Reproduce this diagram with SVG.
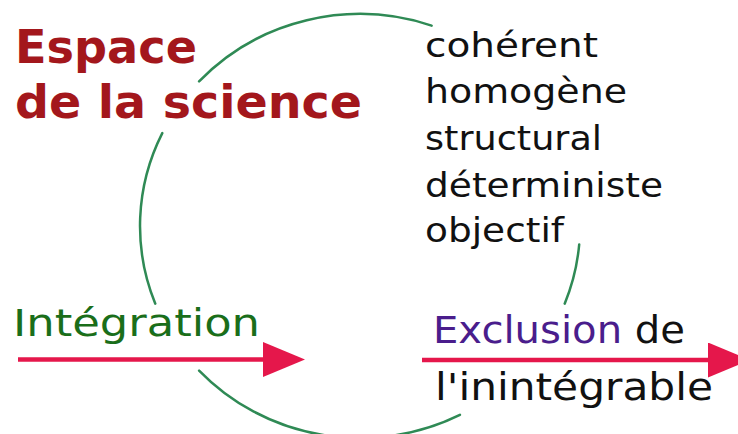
<svg xmlns="http://www.w3.org/2000/svg" width="738" height="434" viewBox="0 0 738 434">
<defs>
<style>
.arc{fill:none;stroke:#2f8a55;stroke-width:2.5;stroke-linecap:round}
.arrow{fill:none;stroke:#e5174b;stroke-width:4.5}
.title{font-family:"DejaVu Sans","Liberation Sans",sans-serif;font-weight:bold;font-size:46px;fill:#a3171c}
.list{font-family:"DejaVu Sans","Liberation Sans",sans-serif;font-size:33px;fill:#111}
.comic{font-family:"Comic Sans MS","DejaVu Sans",sans-serif;font-size:37px}
</style>
<marker id="head" markerUnits="userSpaceOnUse" markerWidth="42" markerHeight="35" viewBox="0 0 42 35" refX="0" refY="17.5" orient="auto">
<polygon points="0,0 42,17.5 0,35" fill="#e5174b"/>
</marker>
</defs>
<rect width="738" height="434" fill="#fff"/>
<g id="connectors">
<path class="arc" d="M199.1,81.4 A220,212 0 0 1 431.6,25.6"/>
<path class="arc" d="M155.3,303.7 A220,212 0 0 1 162.3,133.1"/>
<path class="arc" d="M579.2,244.5 A220,212 0 0 1 564.7,303.7"/>
<path class="arc" d="M459.9,414.9 A220,212 0 0 1 199.1,370.6"/>
<path class="arrow" d="M18,359.5 H263" marker-end="url(#head)"/>
<path class="arrow" d="M422,360 H708" marker-end="url(#head)"/>
</g>
<g id="title">
<text class="title" x="15" y="63" textLength="182" lengthAdjust="spacingAndGlyphs">Espace</text>
<text class="title" x="15" y="118" textLength="347" lengthAdjust="spacingAndGlyphs">de la science</text>
</g>
<g id="list">
<text class="list" x="425" y="57" textLength="173" lengthAdjust="spacingAndGlyphs">cohérent</text>
<text class="list" x="425" y="103" textLength="202" lengthAdjust="spacingAndGlyphs">homogène</text>
<text class="list" x="425" y="150" textLength="177" lengthAdjust="spacingAndGlyphs">structural</text>
<text class="list" x="425" y="197" textLength="238" lengthAdjust="spacingAndGlyphs">déterministe</text>
<text class="list" x="425" y="242" textLength="139" lengthAdjust="spacingAndGlyphs">objectif</text>
</g>
<g id="integration">
<text class="comic" x="13" y="336" fill="#1a6e1a" textLength="247" lengthAdjust="spacingAndGlyphs">Intégration</text>
</g>
<g id="exclusion">
<text class="comic" x="433" y="343" textLength="252" lengthAdjust="spacingAndGlyphs"><tspan fill="#4a1d8c">Exclusion</tspan><tspan fill="#111"> de</tspan></text>
<text class="comic" x="435" y="400" fill="#111" textLength="278" lengthAdjust="spacingAndGlyphs">l'inintégrable</text>
</g>
</svg>
